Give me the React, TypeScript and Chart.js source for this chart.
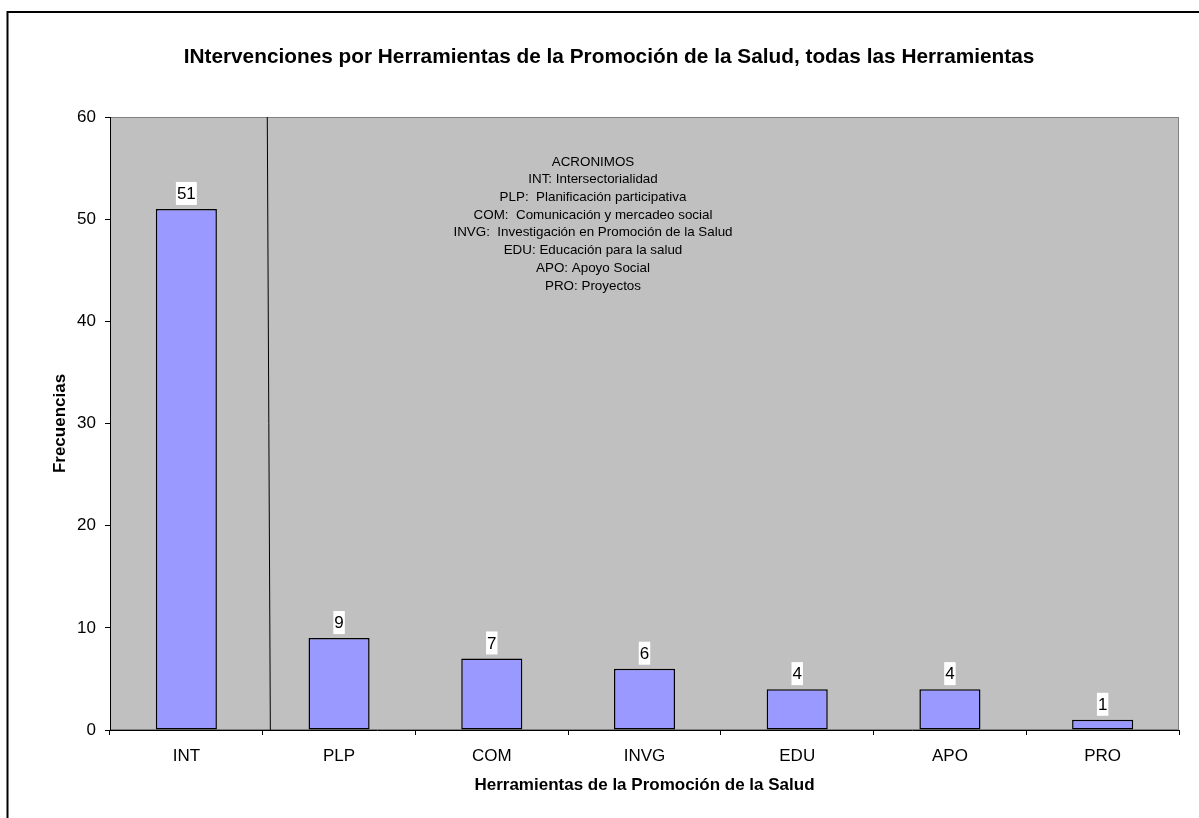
import React, { useEffect, useRef } from "react";
import { Chart, registerables } from "chart.js";

Chart.register(...registerables);

const categories = ["INT", "PLP", "COM", "INVG", "EDU", "APO", "PRO"];
const frecuencias = [51, 9, 7, 6, 4, 4, 1];
const yTicks = [0, 10, 20, 30, 40, 50, 60];
const chartTitle =
  "INtervenciones por Herramientas de la Promoción de la Salud, todas las Herramientas";
const xTitle = "Herramientas de la Promoción de la Salud";
const yTitle = "Frecuencias";
const acronimos = [
  "ACRONIMOS",
  "INT: Intersectorialidad",
  "PLP:  Planificación participativa",
  "COM:  Comunicación y mercadeo social",
  "INVG:  Investigación en Promoción de la Salud",
  "EDU: Educación para la salud",
  "APO: Apoyo Social",
  "PRO: Proyectos",
];

const FONT = "'Liberation Sans', Arial, sans-serif";

export default function App() {
  const ref = useRef<HTMLCanvasElement | null>(null);

  useEffect(() => {
    const canvas = ref.current;
    if (!canvas) return;

    const decor = {
      id: "decor",
      beforeDraw(chart: any) {
        const { ctx, chartArea } = chart;
        ctx.save();
        ctx.fillStyle = "#ffffff";
        ctx.fillRect(0, 0, chart.width, chart.height);
        // outer frame
        ctx.strokeStyle = "#000000";
        ctx.lineWidth = 2;
        ctx.beginPath();
        ctx.moveTo(7.5, 900);
        ctx.lineTo(7.5, 12);
        ctx.lineTo(1300, 12);
        ctx.stroke();
        // plot area
        ctx.fillStyle = "#C0C0C0";
        ctx.fillRect(
          chartArea.left,
          chartArea.top,
          chartArea.right - chartArea.left,
          chartArea.bottom - chartArea.top
        );
        ctx.strokeStyle = "#808080";
        ctx.lineWidth = 1;
        ctx.strokeRect(
          chartArea.left + 0.5,
          chartArea.top + 0.5,
          chartArea.right - chartArea.left - 1,
          chartArea.bottom - chartArea.top - 1
        );
        // title
        ctx.fillStyle = "#000000";
        ctx.font = `bold 20.8px ${FONT}`;
        ctx.textAlign = "center";
        ctx.textBaseline = "middle";
        ctx.fillText(chartTitle, 609, 57);
        ctx.restore();
      },
      afterDraw(chart: any) {
        const { ctx, chartArea } = chart;
        const xs = chart.scales.x;
        const catW = xs.getPixelForValue(1) - xs.getPixelForValue(0);
        const x0 = xs.getPixelForValue(0);
        ctx.save();
        // vertical separator line
        ctx.strokeStyle = "#000000";
        ctx.lineWidth = 1;
        ctx.beginPath();
        ctx.moveTo(x0 + catW * 0.53, chartArea.top);
        ctx.lineTo(x0 + catW * 0.55, chartArea.bottom);
        ctx.stroke();
        // acronyms text
        ctx.fillStyle = "#000000";
        ctx.font = `13.4px ${FONT}`;
        ctx.textAlign = "center";
        ctx.textBaseline = "middle";
        acronimos.forEach((line, i) => {
          ctx.fillText(line, 593, 162 + i * 17.7);
        });
        // data labels
        const meta = chart.getDatasetMeta(0);
        ctx.font = `17px ${FONT}`;
        meta.data.forEach((bar: any, i: number) => {
          const txt = String(frecuencias[i]);
          const w = ctx.measureText(txt).width + 2;
          const h = 23;
          const bottom = bar.y - 4;
          ctx.fillStyle = "#ffffff";
          ctx.fillRect(bar.x - w / 2, bottom - h, w, h);
          ctx.fillStyle = "#000000";
          ctx.fillText(txt, bar.x, bottom - h / 2 + 1);
        });
        ctx.restore();
      },
    };

    const chart = new Chart(canvas, {
      type: "bar",
      data: {
        labels: categories,
        datasets: [
          {
            data: frecuencias,
            backgroundColor: "#9999FF",
            borderColor: "#000000",
            borderWidth: 1.5,
            borderSkipped: false,
            categoryPercentage: 1,
            barPercentage: 0.4,
          },
        ],
      },
      options: {
        animation: false,
        responsive: false,
        layout: { padding: { top: 117, right: 20, bottom: 0, left: 0 } },
        plugins: {
          legend: { display: false },
          title: { display: false },
          tooltip: { enabled: false },
        },
        scales: {
          x: {
            offset: true,
            grid: {
              offset: true,
              drawOnChartArea: false,
              drawTicks: true,
              tickLength: 5,
              tickColor: "#000000",
            },
            border: { display: true, color: "#000000", width: 1 },
            ticks: {
              color: "#000000",
              font: { family: FONT, size: 17 },
              padding: 11,
              maxRotation: 0,
            },
            title: {
              display: true,
              text: xTitle,
              color: "#000000",
              font: { family: FONT, size: 17, weight: "bold" },
              padding: { top: 0, bottom: 22 },
            },
            afterFit(scale: any) {
              scale.height = 88;
            },
          },
          y: {
            min: yTicks[0],
            max: yTicks[yTicks.length - 1],
            afterBuildTicks(scale: any) {
              scale.ticks = yTicks.map((v) => ({ value: v }));
            },
            grid: {
              drawOnChartArea: false,
              drawTicks: true,
              tickLength: 5,
              tickColor: "#000000",
            },
            border: { display: true, color: "#000000", width: 1 },
            ticks: {
              color: "#000000",
              font: { family: FONT, size: 17 },
              padding: 9,
            },
            title: {
              display: true,
              text: yTitle,
              color: "#000000",
              font: { family: FONT, size: 17, weight: "bold" },
              padding: { top: 50, bottom: 0 },
            },
            afterFit(scale: any) {
              scale.width = 110;
            },
          },
        },
      },
      plugins: [decor],
    } as any);

    return () => chart.destroy();
  }, []);

  return (
    <div style={{ position: "fixed", left: 0, top: 0, width: 1199, height: 818 }}>
      <canvas ref={ref} width={1199} height={818} style={{ display: "block" }} />
    </div>
  );
}
